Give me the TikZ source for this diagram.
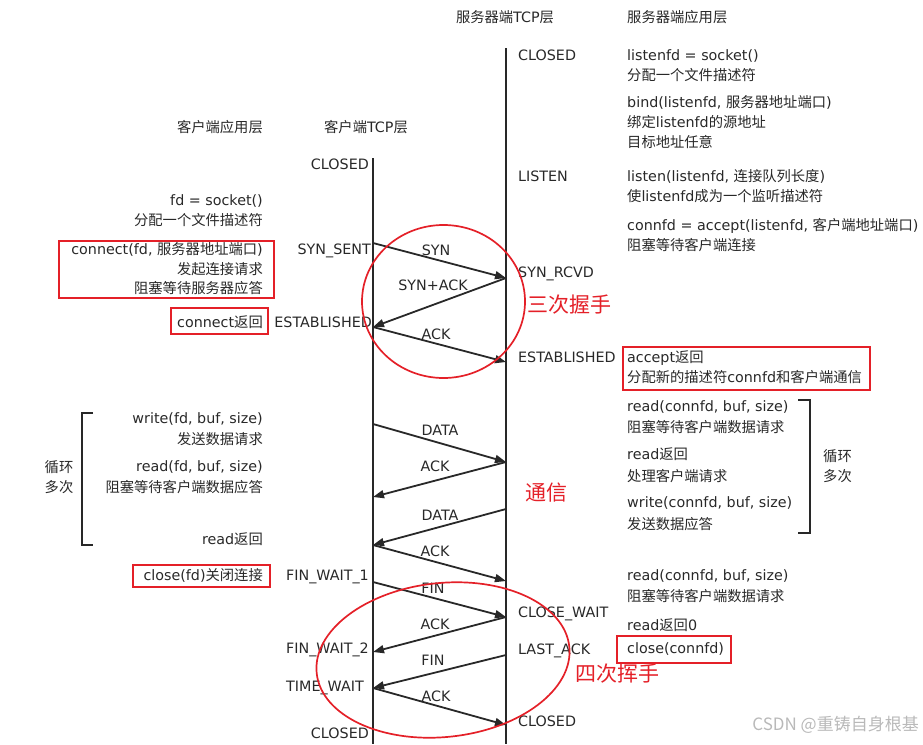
\documentclass[tikz,border=0pt]{standalone}
\usepackage{fontspec}
\setmainfont{DejaVu Sans}
\newfontfamily\zhfont{Noto Sans CJK SC}
\newcommand{\zh}[1]{{\zhfont #1}}
\usetikzlibrary{arrows.meta}
\definecolor{hlred}{RGB}{228,32,40}
\definecolor{inkgray}{RGB}{40,40,40}

\begin{document}
\begin{tikzpicture}[x=1pt,y=-1pt,
		txt/.style={inner sep=0pt,yshift=-1.4pt,text=inkgray,font=\fontsize{14.3}{20}\selectfont},
		lt/.style={txt,anchor=mid west},
		rt/.style={txt,anchor=mid east},
		ct/.style={txt,anchor=mid},
		redtext/.style={inner sep=0pt,yshift=-2pt,anchor=mid west,text=hlred,font=\zhfont\fontsize{21}{24}\selectfont},
		lifeline/.style={line width=2.2pt,inkgray},
		msg/.style={line width=1.8pt,inkgray,-{Triangle[length=11pt,width=8pt]}},
		redline/.style={line width=1.7pt,hlred},
		loopline/.style={line width=1.7pt,inkgray}]
			\useasboundingbox (0,0) rectangle (923,744);
			\node[ct] (sTcpHead) at (505,18) {\zh{服务器端}TCP\zh{层}};
			\node[lt] (sAppHead) at (627,18) {\zh{服务器端应用层}};
			\node[rt] (cAppHead) at (263,128) {\zh{客户端应用层}};
			\node[ct] (cTcpHead) at (366,128) {\zh{客户端}TCP\zh{层}};
			\coordinate (cTop) at (373,158);
			\coordinate (cBot) at (373,744);
			\coordinate (sTop) at (506,48);
			\coordinate (sBot) at (506,744);
			\draw[lifeline] (cTop) -- (cBot);
			\draw[lifeline] (sTop) -- (sBot);
			\node[rt] (cClosed) at (369,165) {CLOSED};
			\node[rt] (cSynSent) at (371,250) {SYN\_SENT};
			\node[rt] (cEstab) at (372,323) {ESTABLISHED};
			\node[rt] (cFinWait1) at (369,576) {FIN\_WAIT\_1};
			\node[rt] (cFinWait2) at (369,649) {FIN\_WAIT\_2};
			\node[rt] (cTimeWait) at (364,687) {TIME\_WAIT};
			\node[rt] (cClosedEnd) at (369,734) {CLOSED};
			\node[lt] (sClosed) at (518,56) {CLOSED};
			\node[lt] (sListen) at (518,177) {LISTEN};
			\node[lt] (sSynRcvd) at (518,273) {SYN\_RCVD};
			\node[lt] (sEstab) at (518,358) {ESTABLISHED};
			\node[lt] (sCloseWait) at (518,613) {CLOSE\_WAIT};
			\node[lt] (sLastAck) at (518,650) {LAST\_ACK};
			\node[lt] (sClosedEnd) at (518,722) {CLOSED};
			\node[rt] (cSocket) at (263,201) {fd = socket()};
			\node[rt] (cSocketNote) at (263,221) {\zh{分配一个文件描述符}};
			\node[rt] (cConnect) at (263,250) {connect(fd, \zh{服务器地址端口})};
			\node[rt] (cConnectNote1) at (263,270) {\zh{发起连接请求}};
			\node[rt] (cConnectNote2) at (263,289) {\zh{阻塞等待服务器应答}};
			\node[rt] (cConnectRet) at (263,323) {connect\zh{返回}};
			\node[rt] (cWrite) at (263,419) {write(fd, buf, size)};
			\node[rt] (cWriteNote) at (263,440) {\zh{发送数据请求}};
			\node[rt] (cRead) at (263,467) {read(fd, buf, size)};
			\node[rt] (cReadNote) at (263,488) {\zh{阻塞等待客户端数据应答}};
			\node[rt] (cReadRet) at (263,540) {read\zh{返回}};
			\node[rt] (cClose) at (263,576) {close(fd)\zh{关闭连接}};
			\node[ct] (cLoop1) at (59,468) {\zh{循环}};
			\node[ct] (cLoop2) at (59,488) {\zh{多次}};
			\node[lt] (sSocket) at (627,56) {listenfd = socket()};
			\node[lt] (sSocketNote) at (627,76) {\zh{分配一个文件描述符}};
			\node[lt] (sBind) at (627,103) {bind(listenfd, \zh{服务器地址端口})};
			\node[lt] (sBindNote1) at (627,123) {\zh{绑定}listenfd\zh{的源地址}};
			\node[lt] (sBindNote2) at (627,143) {\zh{目标地址任意}};
			\node[lt] (sListenCall) at (627,177) {listen(listenfd, \zh{连接队列长度})};
			\node[lt] (sListenNote) at (627,197) {\zh{使}listenfd\zh{成为一个监听描述符}};
			\node[lt] (sAccept) at (627,226) {connfd = accept(listenfd, \zh{客户端地址端口})};
			\node[lt] (sAcceptNote) at (627,246) {\zh{阻塞等待客户端连接}};
			\node[lt] (sAcceptRet) at (627,358) {accept\zh{返回}};
			\node[lt] (sAcceptRetNote) at (627,378) {\zh{分配新的描述符}connfd\zh{和客户端通信}};
			\node[lt] (sRead) at (627,407) {read(connfd, buf, size)};
			\node[lt] (sReadNote) at (627,428) {\zh{阻塞等待客户端数据请求}};
			\node[lt] (sReadRet) at (627,455) {read\zh{返回}};
			\node[lt] (sReadRetNote) at (627,477) {\zh{处理客户端请求}};
			\node[lt] (sWrite) at (627,503) {write(connfd, buf, size)};
			\node[lt] (sWriteNote) at (627,525) {\zh{发送数据应答}};
			\node[lt] (sLoop1) at (823,457) {\zh{循环}};
			\node[lt] (sLoop2) at (823,477) {\zh{多次}};
			\node[lt] (sReadLast) at (627,576) {read(connfd, buf, size)};
			\node[lt] (sReadLastNote) at (627,597) {\zh{阻塞等待客户端数据请求}};
			\node[lt] (sReadZero) at (627,626) {read\zh{返回}0};
			\node[lt] (sClose) at (627,649) {close(connfd)};
			\coordinate (cSyn) at (373,243);
			\coordinate (sSyn) at (506,278);
			\coordinate (cSynAck) at (373,327);
			\coordinate (sAck) at (506,362);
			\coordinate (cData1) at (373,424);
			\coordinate (sData1) at (506,462);
			\coordinate (cAck1) at (373,497);
			\coordinate (sData2) at (506,509);
			\coordinate (cData2) at (373,545);
			\coordinate (sAck2) at (506,581);
			\coordinate (cFin) at (373,582);
			\coordinate (sFin) at (506,617);
			\coordinate (cFinAck) at (373,652);
			\coordinate (sLastFin) at (506,655);
			\coordinate (cTime) at (373,688);
			\coordinate (sLast) at (506,725);
			\draw[msg] (cSyn) -- (sSyn);
			\draw[msg] (sSyn) -- (cSynAck);
			\draw[msg] (cSynAck) -- (sAck);
			\draw[msg] (cData1) -- (sData1);
			\draw[msg] (sData1) -- (cAck1);
			\draw[msg] (sData2) -- (cData2);
			\draw[msg] (cData2) -- (sAck2);
			\draw[msg] (cFin) -- (sFin);
			\draw[msg] (sFin) -- (cFinAck);
			\draw[msg] (sLastFin) -- (cTime);
			\draw[msg] (cTime) -- (sLast);
			\node[ct] (lSyn) at (436,251) {SYN};
			\node[ct] (lSynAck) at (433,286) {SYN+ACK};
			\node[ct] (lAck) at (436,335) {ACK};
			\node[ct] (lData1) at (440,431) {DATA};
			\node[ct] (lAck1) at (435,467) {ACK};
			\node[ct] (lData2) at (440,516) {DATA};
			\node[ct] (lAck2) at (435,552) {ACK};
			\node[ct] (lFin1) at (433,589) {FIN};
			\node[ct] (lAck3) at (435,625) {ACK};
			\node[ct] (lFin2) at (433,661) {FIN};
			\node[ct] (lAck4) at (436,697) {ACK};
			\draw[loopline] (93,413) -- (82,413) -- (82,545) -- (93,545);
			\draw[loopline] (798,400) -- (810,400) -- (810,533) -- (798,533);
			\draw[redline] (59,241) rectangle (274,298);
			\draw[redline] (171,308) rectangle (268,334);
			\draw[redline] (623,347) rectangle (870,390);
			\draw[redline] (133,565) rectangle (270,587);
			\draw[redline] (617,636) rectangle (731,663);
			\draw[redline] (443.5,301.5) ellipse [x radius=81.5pt,y radius=76.5pt];
			\draw[redline,rotate around={6:(443,660)}] (443,660) ellipse [x radius=127pt,y radius=77pt];
			\node[redtext] (hsText) at (527,308) {三次握手};
			\node[redtext] (dataText) at (525,496) {通信};
			\node[redtext] (byeText) at (575,677) {四次挥手};
			\node[inner sep=0pt,anchor=mid east,text=gray!55,font=\zhfont\fontsize{17}{20}\selectfont] (wmark) at (919,728) {CSDN @重铸自身根基};
		\end{tikzpicture}
\end{document}
